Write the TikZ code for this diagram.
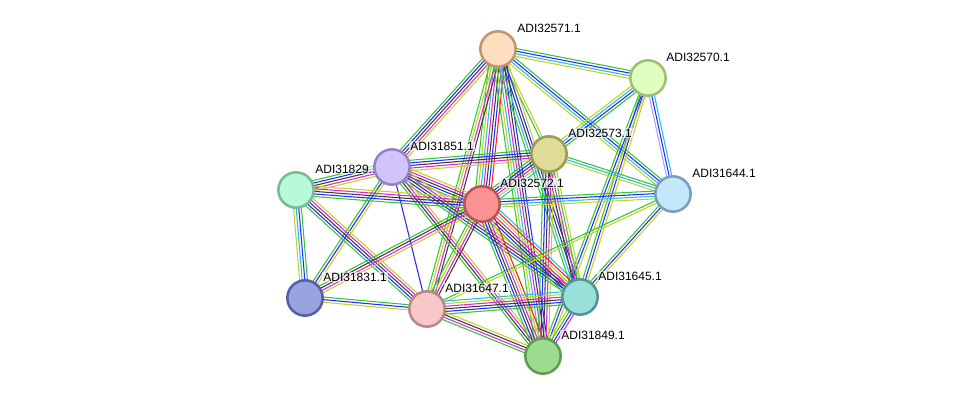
\documentclass[tikz,border=0pt]{standalone}
\usepackage{fontspec}
\setmainfont{Liberation Sans}
\usetikzlibrary{calc}
\pgfdeclarelayer{edgelayer}
\pgfdeclarelayer{labellayer}
\pgfsetlayers{edgelayer,labellayer,main}
\definecolor{cNb}{RGB}{50,200,50}
\definecolor{cFu}{RGB}{255,30,30}
\definecolor{cCo}{RGB}{40,40,255}
\definecolor{cCx}{RGB}{60,60,60}
\definecolor{cEx}{RGB}{220,40,220}
\definecolor{cDb}{RGB}{40,190,225}
\definecolor{cTm}{RGB}{195,210,40}
\definecolor{cHm}{RGB}{165,165,255}
\definecolor{fA}{RGB}{254,222,190}\definecolor{bA}{RGB}{190,150,115}
\definecolor{fB}{RGB}{224,254,192}\definecolor{bB}{RGB}{160,190,120}
\definecolor{fC}{RGB}{222,220,150}\definecolor{bC}{RGB}{155,155,90}
\definecolor{fD}{RGB}{208,196,250}\definecolor{bD}{RGB}{150,130,200}
\definecolor{fE}{RGB}{184,250,216}\definecolor{bE}{RGB}{120,185,150}
\definecolor{fF}{RGB}{250,146,146}\definecolor{bF}{RGB}{185,85,85}
\definecolor{fG}{RGB}{196,232,250}\definecolor{bG}{RGB}{120,160,190}
\definecolor{fH}{RGB}{152,164,224}\definecolor{bH}{RGB}{85,95,165}
\definecolor{fI}{RGB}{248,200,200}\definecolor{bI}{RGB}{185,135,135}
\definecolor{fJ}{RGB}{152,224,216}\definecolor{bJ}{RGB}{80,150,150}
\definecolor{fK}{RGB}{156,220,144}\definecolor{bK}{RGB}{90,160,80}
\tikzset{
  prot/.style={circle, minimum size=26.5pt, inner sep=0pt, line width=1.9pt},
  lbl/.style={anchor=west, inner sep=0.8pt, font=\fontsize{9}{10}\selectfont,
    fill=white, fill opacity=0.6, text opacity=1},
  eline/.style={line width=0.8pt},
}
\newcommand\stredge[3]{%
  \foreach \cc [count=\ii] in {#3} {\xdef\nlines{\ii}}%
  \foreach \cc [count=\ii] in {#3} {%
    \pgfmathsetmacro\off{(\ii-(\nlines+1)/2)*1.95}%
    \draw[eline, draw=\cc] ($(#1.center)!\off pt!90:(#2.center)$) -- ($(#2.center)!\off pt!-90:(#1.center)$);
  }%
}
\begin{document}
\begin{tikzpicture}[x=0.75pt, y=-0.75pt]
\useasboundingbox (0,0) rectangle (975,402);
% proteins
\node[prot, fill=fA, draw=bA] (a) at (498,49) {};
\node[prot, fill=fB, draw=bB] (b) at (648,78) {};
\node[prot, fill=fC, draw=bC] (c) at (549,154) {};
\node[prot, fill=fD, draw=bD] (d) at (392,167) {};
\node[prot, fill=fE, draw=bE] (e) at (296,190) {};
\node[prot, fill=fF, draw=bF] (f) at (482,204) {};
\node[prot, fill=fG, draw=bG] (g) at (673,194) {};
\node[prot, fill=fH, draw=bH] (h) at (305,298) {};
\node[prot, fill=fI, draw=bI] (i) at (427,309) {};
\node[prot, fill=fJ, draw=bJ] (j) at (580,297) {};
\node[prot, fill=fK, draw=bK] (k) at (543,356) {};
% labels
\begin{pgfonlayer}{labellayer}
\node[lbl] (la) at (516,28) {ADI32571.1};
\node[lbl] (lb) at (665,57) {ADI32570.1};
\node[lbl] (lc) at (567,133) {ADI32573.1};
\node[lbl] (ld) at (409,146) {ADI31851.1};
\node[lbl] (le) at (314,169) {ADI31829.1};
\node[lbl] (lf) at (499,183) {ADI32572.1};
\node[lbl] (lg) at (691,173) {ADI31644.1};
\node[lbl] (lh) at (322,277) {ADI31831.1};
\node[lbl] (li) at (444,288) {ADI31647.1};
\node[lbl] (lj) at (597,276) {ADI31645.1};
\node[lbl] (lk) at (560,335) {ADI31849.1};
\end{pgfonlayer}
% associations
\begin{pgfonlayer}{edgelayer}
\stredge{a}{b}{cTm,cDb,cCo,cNb}
\stredge{a}{c}{cNb,cTm}
\stredge{a}{g}{cTm,cDb,cCo,cNb}
\stredge{a}{d}{cNb,cCo,cCx,cEx,cTm}
\stredge{a}{f}{cNb,cTm,cDb,cEx,cCx,cCo,cFu}
\stredge{a}{i}{cNb,cTm,cEx,cCx}
\stredge{a}{k}{cNb,cTm,cDb,cEx,cCx,cCo}
\stredge{a}{j}{cNb,cDb,cCx,cCo,cTm}
\stredge{b}{c}{cTm,cDb,cCo,cNb}
\stredge{b}{g}{cHm,cCo,cDb}
\stredge{b}{j}{cNb,cCo,cTm}
\stredge{b}{k}{cNb,cCo,cTm}
\stredge{c}{f}{cNb,cCo,cCx,cEx,cTm,cDb}
\stredge{c}{d}{cNb,cCo,cCx,cEx,cTm}
\stredge{c}{g}{cTm,cDb,cNb}
\stredge{c}{j}{cCx,cEx,cNb,cTm}
\stredge{c}{k}{cNb,cCo,cCx,cEx,cTm}
\stredge{d}{e}{cNb,cCo,cCx,cEx,cTm}
\stredge{d}{f}{cNb,cCo,cCx,cEx,cTm}
\stredge{d}{i}{cCo}
\stredge{d}{h}{cNb,cCo,cTm}
\stredge{d}{j}{cNb,cCo,cCx,cEx,cTm}
\stredge{d}{k}{cNb,cCx,cEx,cTm}
\stredge{e}{h}{cTm,cDb,cCo,cNb}
\stredge{e}{i}{cNb,cCo,cCx,cEx,cTm}
\stredge{e}{f}{cNb,cCo,cCx,cEx,cTm}
\stredge{f}{g}{cTm,cDb,cCo,cNb}
\stredge{f}{h}{cNb,cCx,cEx,cTm}
\stredge{f}{i}{cNb,cTm,cEx,cCx}
\stredge{f}{j}{cNb,cCo,cCx,cEx,cTm,cFu,cDb}
\stredge{f}{k}{cNb,cCo,cCx,cEx,cTm,cFu}
\stredge{g}{j}{cNb,cCo,cTm}
\stredge{g}{i}{cNb,cTm}
\stredge{h}{i}{cTm,cCo,cNb}
\stredge{i}{j}{cNb,cCo,cCx,cEx,cTm,cDb}
\stredge{i}{k}{cNb,cEx,cCx,cTm}
\stredge{j}{k}{cTm,cNb,cCo,cEx}
\end{pgfonlayer}
\end{tikzpicture}
\end{document}
